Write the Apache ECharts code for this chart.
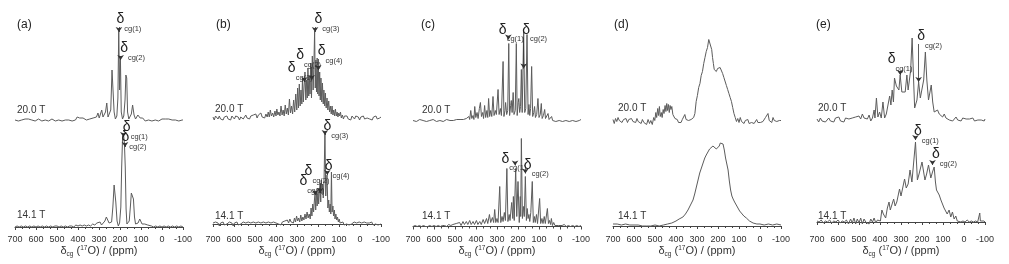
<!DOCTYPE html>
<html>
<head>
<meta charset="utf-8">
<script src="https://cdn.jsdelivr.net/npm/echarts@6/dist/echarts.min.js"></script>
<style>
  html, body { margin: 0; padding: 0; background: #fff; }
  #main { width: 1009px; height: 264px; }
</style>
</head>
<body>
<div id="main"></div>
<script>
// 17O spectra, [ppm, intensity above baseline]; 20.0 T = upper trace, 14.1 T = lower trace
var specA20 = [[700,0],[692,1],[684,-1],[676,1],[668,0],[660,-1],[652,1],[644,0],[636,1],[628,-1],[620,0],[612,1],[604,-1],[596,0],[588,1],[580,0],[572,-1],[564,1],[556,0],[548,1],[540,-1],[532,0],[524,1],[516,0],[508,-1],[500,1],[492,0],[484,1],[476,-1],[468,1],[460,0],[452,2],[444,0],[436,1],[428,-1],[420,1],[412,0],[404,3],[398,1],[392,2],[384,0],[376,2],[368,1],[360,0],[352,2],[344,1],[336,0],[328,2],[320,1],[312,3],[305,7],[299,2],[293,4],[287,10],[281,3],[275,4],[269,8],[263,17],[257,3],[250,2],[244,10],[238,50],[233,48],[228,8],[222,1],[215,4],[210,22],[206,90],[202,30],[198,62],[194,8],[188,1],[182,4],[176,20],[172,45],[168,42],[164,8],[158,1],[152,3],[146,6],[140,15],[137,17],[133,5],[126,1],[120,3],[115,5],[110,6],[104,2],[98,0],[92,2],[86,1],[80,-1],[72,1],[64,0],[56,1],[48,-1],[40,1],[32,0],[24,1],[16,-1],[8,0],[0,1],[-8,-1],[-16,1],[-24,0],[-32,1],[-40,-1],[-48,0],[-56,1],[-64,0],[-72,1],[-80,-1],[-88,1],[-96,0],[-100,0]];
var specA14 = [[700,0],[690,1],[680,0],[670,1],[660,0],[650,1],[640,0],[630,1],[620,0],[610,1],[600,0],[590,1],[580,0],[570,1],[560,0],[550,1],[540,0],[530,1],[520,0],[510,1],[500,1],[490,0],[480,1],[470,0],[460,1],[450,0],[440,1],[430,1],[420,0],[410,2],[400,1],[390,2],[380,1],[370,2],[360,1],[350,2],[340,1],[330,3],[320,2],[310,4],[302,3],[295,5],[288,2],[280,3],[272,6],[265,10],[258,12],[252,4],[246,2],[240,5],[234,20],[228,42],[224,43],[220,25],[214,6],[208,1],[202,4],[196,20],[192,60],[188,88],[183,92],[179,84],[175,60],[171,18],[167,3],[162,1],[156,6],[150,22],[146,34],[141,36],[136,28],[131,10],[126,3],[120,2],[114,4],[106,8],[100,7],[95,3],[88,1],[82,3],[76,4],[68,2],[60,1],[50,1],[40,0],[30,1],[20,0],[10,1],[0,0],[-10,1],[-20,0],[-30,1],[-40,0],[-50,1],[-60,0],[-70,1],[-80,0],[-90,1],[-100,0]];

var specB20 = [[700,1],[694,-2],[688,2],[682,0],[676,-1],[670,2],[664,-1],[658,1],[652,-2],[646,1],[640,0],[634,2],[628,-1],[622,1],[616,-2],[610,2],[604,0],[598,-1],[592,2],[586,0],[580,1],[574,-2],[568,1],[562,2],[556,-1],[550,1],[544,3],[538,0],[532,2],[526,-1],[520,2],[514,0],[508,3],[502,1],[496,4],[490,0],[484,3],[478,1],[472,5],[466,1],[460,3],[454,0],[448,4],[442,1],[437,6],[432,1],[427,8],[422,2],[416,5],[411,1],[405,7],[400,2],[396,9],[391,3],[386,6],[381,2],[376,12],[371,3],[366,8],[361,2],[356,13],[351,4],[346,10],[341,3],[336,19],[331,5],[326,12],[321,4],[316,18],[311,6],[306,24],[301,8],[297,30],[293,10],[289,34],[285,12],[281,28],[277,14],[274,40],[270,16],[266,32],[262,46],[258,18],[255,38],[251,20],[248,50],[244,22],[241,42],[238,24],[235,55],[231,20],[227,62],[223,28],[220,50],[216,87],[213,30],[210,58],[207,26],[204,60],[201,24],[198,50],[195,22],[192,46],[189,18],[186,40],[182,16],[179,35],[175,14],[172,28],[168,12],[165,25],[161,10],[157,20],[153,8],[149,17],[145,6],[141,12],[137,4],[133,12],[129,3],[125,8],[121,2],[117,9],[113,2],[109,6],[105,1],[101,5],[97,2],[93,6],[89,0],[84,3],[79,-1],[74,2],[68,0],[62,2],[56,-1],[50,1],[44,-2],[38,2],[32,0],[26,-1],[20,2],[14,0],[8,1],[2,-2],[-4,1],[-10,0],[-16,2],[-22,-1],[-28,1],[-34,0],[-40,2],[-46,-1],[-52,1],[-58,-2],[-64,1],[-70,0],[-76,2],[-82,-1],[-88,1],[-94,0],[-100,1]];
var specB14 = [[700,1],[694,-1],[688,2],[682,0],[676,1],[670,-2],[664,1],[658,0],[652,2],[646,-1],[640,1],[634,0],[628,-1],[622,2],[616,0],[610,1],[604,-2],[598,1],[592,0],[586,2],[580,-1],[574,1],[568,0],[562,-1],[556,2],[550,0],[544,1],[538,-1],[532,2],[526,0],[520,1],[514,-1],[508,2],[502,0],[496,1],[490,-1],[484,2],[478,0],[472,1],[466,-1],[460,2],[454,0],[448,1],[442,-1],[436,2],[430,0],[424,1],[418,-1],[412,2],[406,0],[400,1],[394,3],[388,0],[382,2],[376,-1],[370,2],[364,0],[358,3],[352,1],[346,4],[340,1],[334,5],[328,2],[322,4],[317,1],[312,6],[307,2],[302,8],[297,3],[292,6],[287,2],[282,9],[277,3],[272,7],[267,4],[262,10],[257,5],[252,12],[247,6],[242,10],[237,5],[233,16],[229,8],[225,20],[221,12],[217,24],[214,30],[211,14],[207,32],[204,18],[200,36],[197,20],[193,34],[190,40],[187,22],[184,44],[181,30],[178,40],[175,26],[171,46],[167,92],[163,28],[160,42],[157,49],[153,16],[149,24],[146,12],[142,20],[139,10],[136,52],[133,12],[129,18],[126,8],[122,14],[119,5],[115,10],[111,4],[107,7],[103,2],[99,5],[95,1],[91,3],[86,0],[81,2],[76,-1],[70,1],[64,0],[58,2],[52,-1],[46,1],[40,0],[34,-1],[28,2],[22,0],[16,1],[10,-1],[4,2],[-2,0],[-8,1],[-14,-1],[-20,2],[-26,0],[-32,1],[-38,-1],[-44,1],[-50,0],[-56,2],[-62,-1],[-68,1],[-74,0],[-80,1],[-86,-1],[-92,1],[-100,0]];

var specC20 = [[700,0],[692,1],[684,-1],[676,0],[668,1],[660,-1],[652,0],[644,1],[636,-1],[628,1],[620,0],[612,-1],[604,1],[596,0],[588,-1],[580,1],[572,0],[564,1],[556,-1],[548,0],[540,1],[532,-1],[524,0],[516,1],[508,0],[500,-1],[492,1],[484,0],[476,1],[468,-1],[460,1],[452,0],[446,2],[440,1],[434,4],[430,1],[425,10],[420,2],[414,5],[410,1],[406,14],[401,3],[395,8],[390,2],[384,12],[379,18],[374,4],[368,8],[364,2],[359,15],[354,3],[348,10],[344,3],[340,22],[335,4],[330,10],[325,4],[319,24],[314,5],[308,10],[303,6],[295,31],[290,6],[284,12],[279,5],[271,59],[267,4],[262,10],[259,18],[254,6],[249,10],[244,77],[240,5],[235,15],[232,20],[228,8],[223,28],[219,6],[213,10],[208,77],[204,5],[199,18],[196,22],[192,8],[188,14],[184,51],[180,8],[173,89],[168,8],[163,12],[157,86],[152,6],[148,16],[144,5],[140,12],[135,54],[130,4],[125,8],[121,14],[117,3],[111,6],[105,22],[100,3],[94,6],[89,17],[85,2],[79,5],[73,11],[69,2],[63,4],[57,7],[52,1],[46,3],[40,4],[35,0],[28,2],[20,-1],[12,1],[4,0],[-4,1],[-12,-1],[-20,1],[-28,0],[-36,1],[-44,-1],[-52,1],[-60,0],[-68,1],[-76,-1],[-84,1],[-92,0],[-100,1]];
var specC14 = [[700,0],[690,1],[680,0],[670,1],[660,0],[650,1],[640,0],[630,0],[620,1],[610,0],[600,1],[590,0],[580,1],[570,0],[560,1],[550,1],[540,0],[530,2],[520,1],[510,2],[502,1],[494,3],[487,1],[478,4],[471,1],[462,5],[455,2],[446,5],[439,2],[430,6],[423,2],[414,5],[407,2],[398,6],[391,2],[382,5],[375,2],[366,7],[359,3],[350,8],[344,3],[336,12],[330,4],[322,9],[316,4],[311,17],[306,4],[300,8],[295,4],[287,40],[282,4],[276,10],[271,5],[265,14],[260,6],[253,58],[248,5],[242,12],[238,6],[230,24],[225,8],[222,30],[218,6],[211,58],[206,10],[200,45],[194,4],[189,30],[187,10],[184,88],[179,8],[174,20],[170,10],[165,50],[160,6],[156,18],[152,8],[148,12],[144,5],[139,14],[132,45],[127,4],[122,10],[118,4],[112,12],[107,3],[97,28],[92,3],[86,8],[81,3],[75,10],[70,3],[60,18],[55,3],[50,6],[45,2],[41,8],[36,1],[30,4],[24,1],[16,3],[8,1],[0,2],[-10,1],[-20,2],[-30,0],[-40,1],[-50,0],[-60,1],[-70,0],[-80,1],[-90,0],[-100,1]];

var specD20 = [[700,2],[694,-2],[688,3],[682,0],[676,4],[670,1],[664,3],[657,-1],[650,2],[644,0],[638,3],[631,-1],[625,2],[618,1],[612,3],[605,0],[599,2],[592,-1],[586,3],[580,0],[573,1],[566,-2],[560,2],[553,-1],[546,1],[540,-3],[533,2],[526,-2],[520,1],[513,-3],[506,4],[501,1],[496,9],[492,4],[487,13],[483,6],[479,15],[475,5],[470,9],[466,4],[461,12],[457,8],[452,16],[448,10],[444,18],[440,11],[436,17],[432,9],[428,16],[424,12],[420,15],[415,7],[410,9],[405,3],[400,1],[394,2],[388,-1],[382,1],[376,-1],[370,2],[364,4],[358,7],[352,2],[346,0],[340,1],[334,0],[328,2],[322,1],[316,4],[310,8],[304,20],[298,26],[292,34],[286,38],[280,46],[274,50],[268,58],[262,64],[256,70],[250,74],[244,82],[240,84],[236,80],[230,72],[226,64],[222,58],[218,52],[214,50],[208,50],[202,53],[196,55],[190,54],[184,52],[178,48],[172,44],[166,42],[160,36],[154,32],[148,28],[142,24],[136,20],[130,14],[124,8],[118,4],[112,0],[106,3],[100,-1],[94,4],[88,0],[82,2],[76,-2],[70,1],[64,-1],[58,2],[52,-2],[46,0],[40,-1],[34,1],[28,-2],[22,0],[16,2],[10,-1],[4,0],[-2,-1],[-8,1],[-14,0],[-20,-2],[-26,4],[-32,2],[-38,8],[-44,1],[-50,3],[-56,-1],[-62,4],[-68,1],[-74,3],[-80,0],[-86,2],[-92,1],[-98,2],[-100,1]];
var specD14 = [[700,2],[680,2],[660,1],[640,2],[620,1],[600,1],[580,1],[560,0],[540,0],[520,0],[500,1],[480,0],[460,1],[440,2],[420,3],[400,5],[385,7],[367,9],[355,12],[343,16],[331,21],[319,26],[311,32],[303,39],[295,46],[287,53],[279,58],[271,63],[263,68],[256,71],[248,74],[240,77],[232,78],[224,80],[216,79],[208,77],[200,76],[194,80],[189,83],[182,84],[176,82],[170,76],[164,68],[158,62],[152,56],[146,45],[140,36],[134,30],[128,27],[121,24],[113,21],[105,18],[97,15],[89,13],[77,10],[65,8],[50,5],[33,3],[15,2],[0,2],[-20,1],[-40,2],[-60,1],[-80,2],[-100,1]];

var specE20 = [[700,1],[692,-2],[684,2],[676,-1],[668,1],[660,-2],[652,0],[644,2],[636,-1],[628,1],[620,-2],[612,2],[604,0],[596,3],[588,-1],[580,1],[572,-2],[564,2],[556,0],[548,1],[540,-1],[532,2],[524,0],[516,3],[508,1],[500,4],[492,1],[484,6],[476,2],[468,4],[460,1],[452,5],[444,-1],[436,2],[428,10],[424,2],[417,22],[410,3],[402,8],[394,2],[386,18],[378,2],[370,6],[362,4],[354,24],[348,15],[342,30],[336,18],[331,42],[322,34],[315,33],[310,30],[304,45],[296,28],[288,30],[280,28],[272,45],[266,30],[260,28],[254,50],[247,82],[240,40],[235,12],[231,10],[224,20],[216,38],[208,22],[200,20],[192,40],[184,68],[177,40],[169,20],[162,28],[156,35],[149,18],[142,8],[134,10],[126,10],[118,6],[110,8],[102,3],[94,6],[86,2],[78,4],[70,0],[62,2],[54,-1],[46,1],[38,3],[30,0],[22,1],[14,-1],[6,2],[-2,0],[-10,1],[-18,-1],[-26,1],[-34,0],[-42,2],[-50,-1],[-58,1],[-66,0],[-74,2],[-82,0],[-90,2],[-96,-1],[-100,1]];
var specE14 = [[700,1],[690,0],[680,2],[670,-1],[660,1],[650,0],[640,2],[630,-1],[620,1],[610,0],[600,2],[590,-1],[580,1],[570,0],[560,2],[550,-2],[540,3],[532,-1],[524,4],[516,-2],[508,3],[500,-1],[492,4],[484,-2],[476,3],[468,0],[460,2],[452,-2],[444,3],[436,0],[428,4],[420,-1],[412,2],[404,0],[398,1],[391,12],[384,8],[378,10],[373,4],[365,14],[357,20],[351,12],[346,12],[335,23],[328,16],[320,20],[307,33],[300,26],[292,28],[283,43],[275,34],[266,38],[257,52],[248,40],[244,42],[231,80],[222,42],[214,48],[200,60],[186,42],[178,48],[169,57],[158,44],[150,50],[142,55],[136,40],[131,32],[124,30],[118,27],[110,22],[102,20],[95,14],[87,14],[80,8],[71,12],[63,5],[55,10],[47,3],[39,6],[32,1],[24,3],[15,0],[5,1],[-5,0],[-15,2],[-25,0],[-35,1],[-45,0],[-55,1],[-65,0],[-72,1],[-75,9],[-78,1],[-85,0],[-95,1],[-100,0]];

// site labels: [ppm, subscript, arrow tip, label top, label shift px]
var notesA20 = [[205,'cg(1)',88,107,-2],[197,'cg(2)',60,78,0]];
var notesA14 = [[184,'cg(1)',90,106,0],[176,'cg(2)',80,96,-3]];
var notesB20 = [[214,'cg(3)',86,105,0],[199,'cg(4)',48,73,0],[230,'cg(2)',38,69,-15],[265,'cg(1)',36,56,-16]];
var notesB14 = [[167,'cg(3)',89,104,-1],[156,'cg(4)',49,64,-2],[190,'cg(2)',31,59,-15],[214,'cg(1)',29,49,-15]];
var notesC20 = [[246,'cg(1)',81,97,-9],[173,'cg(2)',52,97,-1]];
var notesC14 = [[214,'cg(1)',61,74,-13],[165,'cg(2)',53,68,-1]];
var notesE20 = [[304,'cg(1)',45,67,-12],[216,'cg(2)',38,90,-1]];
var notesE14 = [[231,'cg(1)',82,97,-1],[150,'cg(2)',57,74,0]];

var fieldHigh = '20.0 T';
var fieldLow = '14.1 T';

var panels = [
  { tag: '(a)', left: 15,  tagX: 17,  base20: 120,   base14: 227,   up: specA20, low: specA14, nUp: notesA20, nLow: notesA14, lx: 17,  ly20: 105.5, ly14: 210 },
  { tag: '(b)', left: 213, tagX: 216, base20: 118,   base14: 224,   up: specB20, low: specB14, nUp: notesB20, nLow: notesB14, lx: 215, ly20: 104,   ly14: 211 },
  { tag: '(c)', left: 413, tagX: 421, base20: 120.5, base14: 226.5, up: specC20, low: specC14, nUp: notesC20, nLow: notesC14, lx: 422, ly20: 105,   ly14: 211 },
  { tag: '(d)', left: 613, tagX: 614, base20: 121.5, base14: 226,   up: specD20, low: specD14, nUp: [],       nLow: [],       lx: 618, ly20: 103.5, ly14: 211 },
  { tag: '(e)', left: 817, tagX: 816, base20: 120,   base14: 222,   up: specE20, low: specE14, nUp: notesE20, nLow: notesE14, lx: 818, ly20: 103.5, ly14: 211 }
];

var FONT = '"Liberation Sans", Arial, sans-serif';
var grids = [], xAxes = [], yAxes = [], series = [], graphics = [];

function arrowLines(notes) {
  return notes.map(function (n) {
    var start = n[3] - (n[4] < -8 ? 18 : 14);
    if (start < n[2] + 2) start = n[2] + 2;
    return [{ coord: [n[0], start] }, { coord: [n[0], n[2]] }];
  });
}
function labelPoints(notes) {
  return notes.map(function (n) {
    return { name: n[1], coord: [n[0], n[3]], label: { position: [n[4], 0] } };
  });
}

function trace(data, notes, idx) {
  return {
    type: 'line',
    xAxisIndex: idx,
    yAxisIndex: idx,
    data: data,
    showSymbol: false,
    symbol: 'none',
    clip: false,
    lineStyle: { color: '#5c5c5c', width: 1 },
    markLine: {
      silent: true,
      symbol: ['none', 'arrow'],
      symbolSize: 5,
      lineStyle: { color: '#333', width: 0.8, type: 'solid' },
      label: { show: false },
      data: arrowLines(notes)
    },
    markPoint: {
      silent: true,
      symbol: 'rect',
      symbolSize: 1,
      itemStyle: { color: 'rgba(0,0,0,0)' },
      label: {
        show: true,
        align: 'left',
        verticalAlign: 'top',
        formatter: function (p) { return '{d|δ}{s|' + p.name + '}'; },
        rich: {
          d: { fontSize: 14, lineHeight: 14, color: '#222', fontFamily: FONT, verticalAlign: 'top' },
          s: { fontSize: 7.5, lineHeight: 9, color: '#333', fontFamily: FONT, verticalAlign: 'top', padding: [12, 0, 0, 0] }
        }
      },
      data: labelPoints(notes)
    }
  };
}

panels.forEach(function (p, i) {
  var iu = 2 * i, il = 2 * i + 1;
  grids.push({ left: p.left, width: 168, top: 10, height: 114 });
  grids.push({ left: p.left, width: 168, top: 117, height: 114 });

  xAxes.push({ gridIndex: iu, type: 'value', min: -100, max: 700, inverse: true, show: false });
  xAxes.push({
    gridIndex: il, type: 'value', min: -100, max: 700, interval: 100, inverse: true,
    axisLine: { lineStyle: { color: '#444', width: 1 } },
    axisTick: { show: true, length: 3, lineStyle: { color: '#444' } },
    minorTick: { show: true, splitNumber: 3, length: 2, lineStyle: { color: '#444' } },
    splitLine: { show: false },
    axisLabel: { fontSize: 9, color: '#333', margin: 4, fontFamily: FONT },
    name: '{t|δ}{sb|cg}{t| (}{sp|17}{t|O) / (ppm)}',
    nameLocation: 'middle',
    nameGap: 13,
    nameTextStyle: {
      rich: {
        t: { fontSize: 11, lineHeight: 12, color: '#333', fontFamily: FONT, verticalAlign: 'middle' },
        sb: { fontSize: 6.5, lineHeight: 8, color: '#333', fontFamily: FONT, verticalAlign: 'top', padding: [6, 0, 0, 0] },
        sp: { fontSize: 6.5, lineHeight: 8, color: '#333', fontFamily: FONT, verticalAlign: 'top' }
      }
    }
  });

  yAxes.push({ gridIndex: iu, type: 'value', show: false, max: p.base20 - 10, min: p.base20 - 124 });
  yAxes.push({ gridIndex: il, type: 'value', show: false, max: p.base14 - 117, min: p.base14 - 231 });

  series.push(trace(p.up, p.nUp, iu));
  series.push(trace(p.low, p.nLow, il));

  graphics.push({ type: 'text', left: p.tagX, top: 19, style: { text: p.tag, fill: '#222', font: '12px ' + FONT } });
  graphics.push({ type: 'text', left: p.lx, top: p.ly20, style: { text: fieldHigh, fill: '#333', font: '10px ' + FONT } });
  graphics.push({ type: 'text', left: p.lx, top: p.ly14, style: { text: fieldLow, fill: '#333', font: '10px ' + FONT } });
});

var chart = echarts.init(document.getElementById('main'));
chart.setOption({
  animation: false,
  backgroundColor: '#fff',
  grid: grids,
  xAxis: xAxes,
  yAxis: yAxes,
  series: series,
  graphic: graphics
});
</script>
</body>
</html>
